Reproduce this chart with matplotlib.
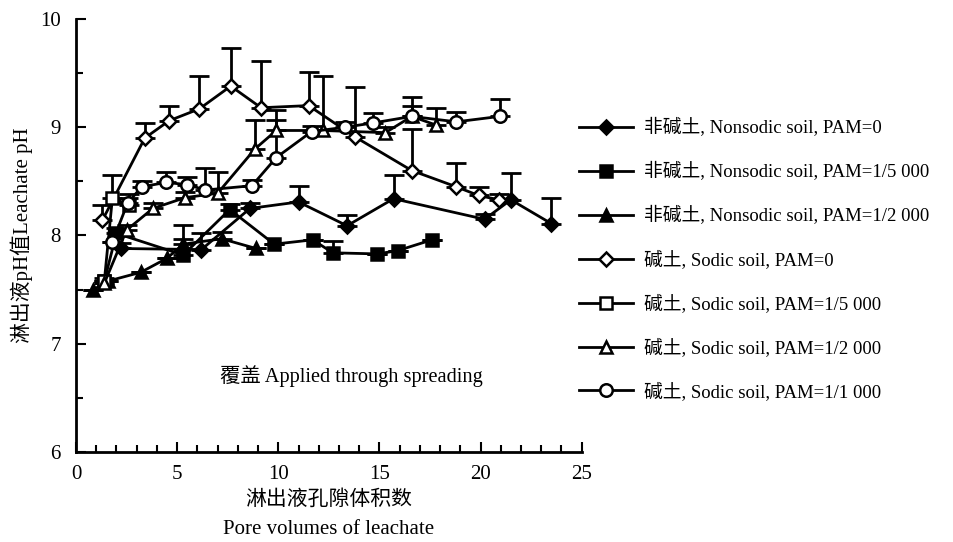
import numpy as np
import matplotlib.pyplot as plt

plt.rcParams['font.family'] = ['Liberation Serif', 'Noto Sans CJK SC']

# Nonsodic soil (非碱土)
ns0_x = [2.2, 6.2, 8.6, 11.0, 13.4, 15.7, 20.2, 21.5, 23.5]
ns0_y = [7.88, 7.87, 8.25, 8.31, 8.09, 8.34, 8.15, 8.33, 8.11]
ns0_e = [0.05, 0.15, 0.05, 0.15, 0.10, 0.22, 0.05, 0.25, 0.24]

ns5000_x = [1.4, 2.0, 5.3, 7.6, 9.8, 11.7, 12.7, 14.9, 15.9, 17.6]
ns5000_y = [7.58, 8.02, 7.82, 8.24, 7.92, 7.96, 7.84, 7.83, 7.86, 7.96]
ns5000_e = [0.03, 0.05, 0.28, 0.05, 0.0, 0.0, 0.11, 0.0, 0.0, 0.0]

ns2000_x = [0.85, 1.6, 3.2, 4.5, 5.3, 7.2, 8.9]
ns2000_y = [7.50, 7.58, 7.66, 7.79, 7.92, 7.97, 7.88]
ns2000_e = [0.0, 0.0, 0.0, 0.0, 0.05, 0.06, 0.0]

# Sodic soil (碱土)
s0_x = [1.3, 3.4, 4.6, 6.1, 7.65, 9.15, 11.5, 13.8, 16.6, 18.8, 19.9, 20.9]
s0_y = [8.14, 8.90, 9.06, 9.17, 9.38, 9.18, 9.20, 8.91, 8.60, 8.45, 8.37, 8.33]
s0_e = [0.14, 0.14, 0.14, 0.30, 0.35, 0.43, 0.31, 0.46, 0.38, 0.22, 0.08, 0.05]

s5000_x = [1.4, 1.8, 2.6]
s5000_y = [7.58, 8.35, 8.28]
s5000_e = [0.0, 0.21, 0.10]

s2000_x = [1.4, 2.5, 3.8, 5.4, 7.0, 8.85, 9.9, 12.2, 15.3, 16.6, 17.8]
s2000_y = [7.56, 8.05, 8.25, 8.35, 8.39, 8.80, 8.97, 8.97, 8.95, 9.10, 9.02]
s2000_e = [0.0, 0.05, 0.05, 0.05, 0.20, 0.27, 0.19, 0.50, 0.05, 0.18, 0.16]

s1000_x = [1.8, 2.55, 3.25, 4.45, 5.5, 6.4, 8.7, 9.9, 11.65, 13.3, 14.7, 16.6, 18.8, 20.95]
s1000_y = [7.94, 8.30, 8.45, 8.49, 8.47, 8.42, 8.46, 8.72, 8.96, 9.00, 9.04, 9.10, 9.05, 9.10]
s1000_e = [0.0, 0.05, 0.05, 0.10, 0.07, 0.20, 0.05, 0.35, 0.05, 0.05, 0.09, 0.10, 0.09, 0.16]

series = [
    (ns0_x, ns0_y, ns0_e, 'D', 'black', '非碱土, Nonsodic soil, PAM=0'),
    (ns5000_x, ns5000_y, ns5000_e, 's', 'black', '非碱土, Nonsodic soil, PAM=1/5 000'),
    (ns2000_x, ns2000_y, ns2000_e, '^', 'black', '非碱土, Nonsodic soil, PAM=1/2 000'),
    (s0_x, s0_y, s0_e, 'D', 'white', '碱土, Sodic soil, PAM=0'),
    (s5000_x, s5000_y, s5000_e, 's', 'white', '碱土, Sodic soil, PAM=1/5 000'),
    (s2000_x, s2000_y, s2000_e, '^', 'white', '碱土, Sodic soil, PAM=1/2 000'),
    (s1000_x, s1000_y, s1000_e, 'o', 'white', '碱土, Sodic soil, PAM=1/1 000'),
]

fig = plt.figure(figsize=(9.54, 5.42), dpi=100)
ax = fig.add_axes([0.0797, 0.166, 0.530, 0.799])

for x, y, e, m, fc, lab in series:
    # upper error bars only
    ax.errorbar(x, y, yerr=[np.zeros(len(e)), e], fmt='none', ecolor='black',
                elinewidth=2, capsize=7, capthick=2, zorder=2)
    ms = 7 if m == 'D' else 9
    ax.plot(x, y, color='black', lw=2, marker=m, ms=ms, mfc=fc, mec='black',
            mew=1.8, label=lab, zorder=3)

ax.set_xlim(0, 25)
ax.set_ylim(6, 10)
ax.set_xticks([0, 5, 10, 15, 20, 25])
ax.set_xticks(np.arange(0, 26, 1), minor=True)
ax.set_yticks([6, 7, 8, 9, 10])
ax.set_yticks(np.arange(6, 10.01, 0.5), minor=True)
ax.tick_params(which='both', direction='in', width=1.5, labelsize=15, colors='black')
ax.tick_params(which='major', length=7)
ax.tick_params(which='minor', length=5)
ax.tick_params(axis='x', pad=9)
ax.tick_params(axis='y', pad=11)
for s in ['top', 'right']:
    ax.spines[s].set_visible(False)
for s in ['left', 'bottom']:
    ax.spines[s].set_linewidth(2)

ax.set_xlabel('淋出液孔隙体积数\nPore volumes of leachate', fontsize=15,
              linespacing=1.7, labelpad=5)
ax.set_ylabel('淋出液pH值Leachate pH', fontsize=15, labelpad=5)
ax.text(7.1, 6.7, '覆盖 Applied through spreading', fontsize=14.7, va='center')

fig.legend(*ax.get_legend_handles_labels(), loc='upper left',
           bbox_to_anchor=(570 / 954, 1 - 109 / 542), frameon=False, borderpad=0,
           fontsize=13.5, handlelength=2.85, labelspacing=1.33, handletextpad=0.6)

fig.savefig('out.png', dpi=100)
